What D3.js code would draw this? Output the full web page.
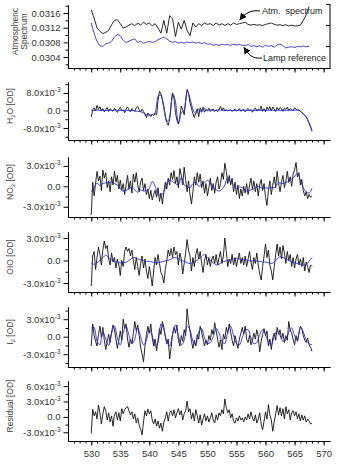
<!DOCTYPE html>
<html>
<head>
<meta charset="utf-8">
<script src="https://cdn.jsdelivr.net/npm/d3@7"></script>
<style>
  body { margin: 0; background: #fff; }
  svg { display: block; font-family: "Liberation Sans", Arial, sans-serif; }
</style>
</head>
<body>
<div id="chart"></div>
<script>
// wavelength grid: every series starts at 530 nm
const wlStart = 530;
const fineStep = 0.25;   // black (measured) traces
const coarseStep = 0.5;  // spectra and blue (fitted) traces
const xMajor = [530, 535, 540, 545, 550, 555, 560, 565, 570];

// panel 1: spectra
const atmSpectrum = [0.03169,0.03146,0.03119,0.03110,0.03104,0.03107,0.03113,0.03128,0.03140,0.03142,
  0.03131,0.03119,0.03122,0.03127,0.03131,0.03125,0.03133,0.03127,0.03135,0.03129,
  0.03133,0.03125,0.03131,0.03119,0.03105,0.03140,0.03105,0.03153,0.03144,0.03096,
  0.03135,0.03116,0.03140,0.03113,0.03098,0.03133,0.03122,0.03131,0.03126,0.03133,
  0.03129,0.03131,0.03126,0.03133,0.03127,0.03131,0.03126,0.03131,0.03127,0.03133,
  0.03129,0.03131,0.03133,0.03135,0.03129,0.03127,0.03129,0.03127,0.03128,0.03126,
  0.03129,0.03131,0.03133,0.03129,0.03127,0.03128,0.03126,0.03128,0.03125,0.03127,
  0.03125,0.03125,0.03127,0.03140,0.03155,0.03178];
const lampReference = [0.03133,0.03105,0.03083,0.03071,0.03069,0.03076,0.03078,0.03083,0.03094,0.03101,
  0.03098,0.03085,0.03080,0.03083,0.03087,0.03089,0.03080,0.03083,0.03078,0.03080,
  0.03083,0.03080,0.03082,0.03087,0.03091,0.03094,0.03089,0.03084,0.03080,0.03082,
  0.03078,0.03080,0.03078,0.03081,0.03079,0.03081,0.03078,0.03080,0.03077,0.03079,
  0.03075,0.03076,0.03072,0.03074,0.03072,0.03075,0.03073,0.03074,0.03072,0.03075,
  0.03073,0.03074,0.03072,0.03071,0.03074,0.03069,0.03071,0.03068,0.03071,0.03067,
  0.03072,0.03069,0.03071,0.03067,0.03073,0.03075,0.03071,0.03065,0.03067,0.03068,
  0.03066,0.03069,0.03068,0.03070,0.03068,0.03069];

// optical densities, in units of 10^-3
const h2oMeas = [-3.0,0.3,1.2,-0.2,2.3,0.5,1.7,-0.3,0.8,-0.6,
  0.4,1.3,-0.5,0.7,0.2,-0.4,1.0,0.1,-0.9,0.5,
  1.5,-0.2,0.3,-1.0,0.6,1.6,0.2,-0.6,0.8,0.2,
  -0.4,1.2,1.8,0.3,-0.7,0.6,-0.4,-1.8,-3.2,-1.2,
  -2.0,-2.8,-1.8,-2.4,-1.5,-2.0,4.5,8.8,7.5,5.0,
  2.0,-2.5,-5.5,-6.8,-4.0,2.5,8.0,5.5,-1.0,-4.5,
  -6.2,-3.0,2.0,0.5,-2.0,4.0,9.6,8.0,3.5,1.0,
  -1.5,-3.2,-1.0,0.8,-2.8,1.2,-0.5,1.5,-0.8,0.4,
  -0.2,1.0,-0.5,0.3,0.6,-0.4,0.2,-0.6,0.5,1.8,
  0.2,1.2,-0.3,0.4,-0.2,0.1,0.3,-0.5,0.2,0.6,
  -0.3,0.1,0.8,-0.4,0.2,0.4,-0.6,0.3,0.9,-0.2,
  0.3,-0.8,0.4,1.2,-0.3,0.6,0.1,1.9,-0.4,0.8,
  -0.6,1.5,0.3,1.7,-0.2,1.6,0.6,-0.5,1.4,0.2,
  1.3,0.8,-0.4,1.1,0.5,1.5,0.0,0.9,0.4,-0.2,
  1.2,0.6,0.2,0.3,-0.5,-1.0,-1.6,-2.3,-3.0,-4.2,
  -5.8,-7.6,-9.5];
const h2oFit = [0.2,0.0,0.2,0.0,0.1,0.0,0.1,0.0,0.1,0.0,
  0.0,0.0,0.0,-0.1,0.0,-0.2,-0.4,-0.6,-1.2,-2.0,
  -2.2,-1.8,-1.2,6.5,7.0,1.0,-5.0,-3.5,7.5,4.0,
  -5.8,-1.0,0.0,8.8,5.5,0.5,-1.5,0.5,-0.8,1.0,
  0.0,0.3,-0.2,0.1,0.3,0.0,0.1,0.0,0.1,-0.1,
  0.0,0.1,0.0,0.1,0.0,0.2,0.0,0.1,0.0,0.1,
  0.0,0.1,0.2,0.0,0.1,0.0,0.1,0.0,0.1,0.0,
  0.1,0.2,-0.3,-1.5,-3.0,-5.5,-9.2];

const no2Meas = [-4.2,0.6,-1.4,0.5,2.2,0.8,1.5,-0.6,2.4,1.2,
  2.0,-0.2,0.8,-0.8,1.4,0.2,2.2,0.6,1.6,-0.4,
  0.9,-0.6,0.4,-1.2,0.2,1.6,-0.4,0.8,-1.0,1.8,
  0.6,2.0,0.2,-0.8,0.6,1.2,-0.6,0.4,-1.2,-0.4,
  -1.8,-0.6,-2.0,-1.2,-0.6,-1.6,-0.2,-2.2,-1.0,-2.6,
  -0.8,0.6,-0.4,1.2,0.2,2.0,1.0,2.3,0.4,1.4,
  -0.2,2.6,1.6,0.2,2.8,1.0,-0.8,0.8,-1.2,-2.6,
  -0.8,1.4,0.2,2.0,0.6,1.8,-0.2,0.8,-1.0,0.4,
  -1.4,-0.2,1.2,-0.6,0.4,-1.0,0.6,1.4,-0.4,0.4,
  2.0,1.0,3.4,2.2,0.4,1.6,0.2,1.2,-0.8,0.6,
  -1.2,0.2,-1.8,-0.4,-1.4,0.0,-1.0,0.4,-1.2,0.2,
  1.2,-0.4,0.8,-0.8,0.4,-1.4,0.2,1.0,-0.6,0.4,
  -1.6,-2.8,-0.6,0.8,-1.2,0.2,1.4,-0.2,2.2,0.4,
  -0.8,0.6,1.6,-0.2,0.8,2.2,0.6,1.4,0.0,1.8,
  2.4,3.5,1.4,2.0,0.2,1.0,-0.6,-1.4,-0.8,-1.8,
  -1.2,-1.6,-1.4];
const no2Fit = [-0.8,-0.2,0.5,0.1,0.4,0.5,0.5,0.7,0.4,0.2,
  -0.3,-0.7,-0.6,-0.4,-0.1,-0.5,-0.9,-0.5,-0.7,-0.6,
  -0.3,0.7,0.0,-1.3,-1.2,-0.9,0.4,0.9,0.7,0.4,
  0.2,1.3,0.2,-0.1,-0.2,0.4,0.6,0.0,0.3,0.5,
  0.9,0.5,-0.2,-0.5,-0.7,-0.4,0.2,1.3,0.6,0.2,
  -0.3,-0.1,-0.2,-0.6,-0.7,-0.5,-0.4,0.0,-0.1,-0.3,
  -0.2,-0.3,-0.2,-0.2,0.3,0.5,0.4,0.6,0.7,1.1,
  1.4,1.9,0.9,-0.2,-0.8,-1.0,-0.3];

const oioMeas = [-3.4,0.6,1.2,-1.2,0.4,1.8,0.8,-0.6,1.4,2.6,
  1.6,2.0,0.2,-0.6,1.0,-0.2,0.4,-1.0,0.2,-0.6,
  -2.0,0.0,-0.8,1.2,1.8,1.2,1.6,0.6,1.4,0.0,
  -1.2,0.4,-0.8,-2.0,-0.4,0.6,-1.0,0.2,-1.4,-2.4,
  -0.8,-2.0,-3.4,-1.4,0.4,-0.6,0.8,-0.4,-1.6,-2.0,
  -3.0,-1.2,0.0,1.4,0.6,1.6,0.4,1.8,0.8,1.2,
  -0.6,1.0,0.2,-1.8,-0.4,1.0,2.8,1.4,0.6,-1.4,
  0.4,-0.8,0.8,1.6,0.2,1.2,-0.4,-1.6,0.0,0.8,
  -0.6,0.4,-0.8,0.2,0.6,-0.4,0.8,-0.6,0.4,1.2,
  -0.4,0.6,3.0,1.2,-0.8,0.2,-0.4,0.8,-0.6,0.4,
  -0.8,0.2,1.0,-0.4,0.4,-0.6,0.6,-0.8,0.2,1.2,
  -0.2,-1.2,0.4,-0.4,1.0,-0.6,-1.8,-2.6,-0.8,0.6,
  2.2,0.4,1.4,-0.6,-1.4,-2.6,-0.8,0.8,2.2,0.6,
  1.8,0.2,2.0,1.0,-0.4,1.2,0.0,0.8,-0.8,0.4,
  -1.0,0.2,0.8,-0.6,0.2,-0.8,0.4,-1.4,-0.2,-0.8,
  -1.6,-0.6,-0.8];
const oioFit = [-0.3,-0.5,-0.3,0.0,0.4,0.7,0.4,0.1,-0.1,-0.2,
  -0.3,-0.3,-0.2,0.0,0.3,0.4,0.2,0.1,0.0,-0.1,
  -0.1,-0.2,-0.3,-0.3,-0.2,-0.1,0.0,0.1,0.3,0.4,
  0.2,0.0,-0.1,-0.3,-0.4,-0.3,-0.1,0.2,0.5,0.8,
  0.4,0.0,-0.3,-0.6,-0.5,-0.2,-0.1,0.0,0.1,0.2,
  0.3,0.2,0.1,0.1,0.0,-0.1,0.0,-0.1,-0.1,-0.2,
  -0.2,-0.3,-0.4,-0.2,0.2,0.5,0.4,0.2,0.0,-0.2,
  -0.3,-0.4,-0.5,-0.6,-0.5,-0.1,0.4];

const i2Meas = [-1.6,2.2,0.2,-0.8,-1.6,0.4,1.8,-0.2,1.6,-0.6,
  -2.2,-0.8,0.4,-1.0,0.8,2.0,1.2,-0.4,-2.0,-0.6,
  1.0,-0.6,3.0,1.4,2.2,-0.4,-1.8,-0.4,-1.2,0.6,
  2.6,1.0,2.0,0.2,-1.8,-3.0,-4.3,-1.6,0.4,1.8,
  0.6,2.2,-0.2,-1.6,-0.4,-2.4,-0.6,1.4,0.4,2.6,
  1.6,0.0,-1.2,-0.4,-3.8,-1.8,0.4,1.6,0.6,2.0,
  -0.6,-1.6,0.2,-0.8,1.2,0.2,4.8,2.4,1.0,-0.8,
  -2.0,-0.6,-1.6,0.4,-0.4,1.8,0.8,-0.4,-1.6,-0.6,
  -1.4,0.2,-0.6,1.2,0.4,2.4,1.0,-0.4,-1.8,-0.6,
  -2.2,0.4,-0.4,1.6,0.6,2.2,0.8,-0.6,-1.6,0.2,
  -1.0,-2.0,-0.4,0.6,1.6,0.4,1.8,-0.4,-1.0,0.2,
  -1.4,-0.6,0.6,-0.4,1.2,0.0,-2.6,-0.8,0.4,1.4,
  0.2,1.0,-1.6,-0.4,-2.2,-0.2,0.6,-0.6,1.6,0.4,
  1.2,-0.4,0.6,-1.0,0.2,-0.6,2.6,1.2,0.6,-0.4,
  -1.4,0.2,-0.8,0.6,1.8,1.4,0.2,-0.6,-1.0,-0.2,
  -1.4,-1.8,-2.5];
const i2Fit = [1.5,1.6,-0.8,-1.4,0.8,-0.4,-1.5,0.6,1.8,-0.2,
  -1.4,0.6,1.8,0.2,-1.2,-0.4,1.5,0.0,-1.4,-0.6,
  1.2,0.2,-1.6,-1.0,2.2,1.2,-0.8,-1.6,0.4,2.0,
  0.2,-1.4,-0.6,1.8,1.2,-0.8,-1.4,0.8,1.4,-0.2,
  -1.2,-1.0,0.0,1.4,0.6,-0.8,-1.2,0.8,1.8,0.2,
  -1.2,-1.4,-0.2,1.2,1.2,-0.2,-1.2,-1.0,0.4,1.2,
  0.4,-1.0,-1.4,0.0,1.0,0.2,-0.8,-0.6,0.8,1.5,
  0.2,-0.6,1.6,0.8,-0.6,-1.2,-1.4];

const residual = [-3.2,1.5,0.2,1.0,-0.4,2.3,0.8,-1.4,0.6,2.0,
  1.2,-0.6,0.8,-1.0,0.2,-1.8,0.4,1.0,-0.6,0.8,
  -0.8,1.6,0.6,1.4,1.8,2.0,1.2,0.4,1.0,-0.4,
  0.6,-1.2,-0.2,-1.6,-2.4,-3.5,-1.0,1.2,0.2,1.5,
  0.6,1.2,-0.6,-1.4,-0.4,-1.8,-0.8,-2.2,-1.2,-2.8,
  -1.0,-0.2,1.0,-0.8,0.8,1.2,0.2,1.4,-0.2,0.8,
  1.6,0.4,1.2,-0.6,0.6,1.2,3.1,1.0,1.6,-0.4,
  0.8,-0.8,1.4,0.2,-1.2,0.4,-1.6,-0.4,0.6,-0.8,
  0.2,-1.0,-0.2,0.8,-0.6,-1.2,0.4,-0.6,0.8,0.2,
  1.4,0.6,3.5,1.8,0.8,1.4,-0.2,0.6,-0.8,-1.2,
  -0.2,-0.8,0.2,-0.6,-0.2,-1.0,0.0,-0.6,0.6,-0.4,
  1.0,-0.2,-0.8,0.4,-1.2,-0.4,0.8,-1.4,-2.5,-0.8,
  1.0,-0.4,2.4,0.4,-0.6,-2.8,-1.0,0.6,2.2,0.4,
  1.8,0.2,1.6,-0.4,2.0,0.6,1.4,-0.6,0.8,1.2,
  0.2,1.0,-0.4,0.6,-0.8,0.4,-0.6,0.2,-1.0,-0.4,
  -0.8,-1.4,-1.2];

const black = '#111';
const blue = '#2b2bd2';

const width = 344, height = 474;
const svg = d3.select('#chart').append('svg')
    .attr('width', width)
    .attr('height', height);

const x = d3.scaleLinear().domain([526, 571.1]).range([68, 330]);

const panels = [
    {title: ['Atmospheric', 'Spectrum'], top: 5, bottom: 68, domain: [0.0301, 0.03182],
     major: [0.0304, 0.0308, 0.0312, 0.0316], minor: [0.0302, 0.0306, 0.0310, 0.0314, 0.0318], sci: false,
     series: [{data: atmSpectrum, step: coarseStep, color: black}, {data: lampReference, step: coarseStep, color: blue, smooth: true}]},
    {title: ['H', '2', 'O [OD]'], top: 82, bottom: 140, domain: [-13.5, 13.0],
     major: [-8, 0, 8], minor: [-12, -4, 4, 12], sci: true,
     series: [{data: h2oMeas, step: fineStep, color: black}, {data: h2oFit, step: coarseStep, color: blue, smooth: true}]},
    {title: ['NO', '2', ' [OD]'], top: 157, bottom: 217, domain: [-4.5, 4.3],
     major: [-3, 0, 3], minor: [-1.5, 1.5], sci: true,
     series: [{data: no2Meas, step: fineStep, color: black}, {data: no2Fit, step: coarseStep, color: blue, smooth: true}]},
    {title: ['OIO [OD]'], top: 232, bottom: 292, domain: [-4.2, 3.8],
     major: [-3, 0, 3], minor: [-1.5, 1.5], sci: true,
     series: [{data: oioMeas, step: fineStep, color: black}, {data: oioFit, step: coarseStep, color: blue, smooth: true}]},
    {title: ['I', '2', ' [OD]'], top: 307, bottom: 367, domain: [-5.2, 5.1],
     major: [-3, 0, 3], minor: [-4.5, -1.5, 1.5, 4.5], sci: true,
     series: [{data: i2Meas, step: fineStep, color: black}, {data: i2Fit, step: coarseStep, color: blue, smooth: true}]},
    {title: ['Residual [OD]'], top: 381, bottom: 441, domain: [-4.7, 7.0],
     major: [-3, 0, 3, 6], minor: [-1.5, 1.5, 4.5], sci: true,
     series: [{data: residual, step: fineStep, color: black}]}
];

function styleAxis(g) {
    g.attr('font-family', null).attr('font-size', null);
    g.selectAll('path, line').attr('stroke', '#000').attr('stroke-width', 1);
    g.selectAll('text').attr('fill', '#333').style('font-size', '9.5px');
}

function sciLabels(g) {
    g.selectAll('.tick text').each(function (d) {
        let t = d3.select(this);
        t.text('');
        if (d === 0) {
            t.text('0.0');
            return;
        }
        t.append('tspan').text(d.toFixed(1) + 'x10');
        t.append('tspan').attr('dy', '-4').style('font-size', '6.5px').text('-3');
    });
}

panels.forEach((p, k) => {
    let y = d3.scaleLinear().domain(p.domain).range([p.bottom, p.top]);
    let last = k === panels.length - 1;

    // lines
    p.series.forEach(s => {
        let line = d3.line()
            .x((d, i) => x(wlStart + i * s.step))
            .y(d => y(d));
        if (s.smooth) line.curve(d3.curveMonotoneX);
        svg.append('path')
            .datum(s.data)
            .attr('fill', 'none')
            .attr('stroke', s.color)
            .attr('stroke-width', 0.9)
            .attr('stroke-linejoin', 'round')
            .attr('d', line);
    });

    // x axis: minor then major ticks
    let gxMinor = svg.append('g').attr('transform', 'translate(0,' + p.bottom + ')')
        .call(d3.axisBottom(x).tickValues(d3.range(527, 571, 1)).tickSize(2.5).tickSizeOuter(0).tickFormat(''));
    styleAxis(gxMinor);
    let gx = svg.append('g').attr('transform', 'translate(0,' + p.bottom + ')')
        .call(d3.axisBottom(x).tickValues(xMajor).tickSize(4.5).tickSizeOuter(0).tickPadding(5)
            .tickFormat(last ? d3.format('d') : ''));
    styleAxis(gx);

    // y axis
    let gyMinor = svg.append('g').attr('transform', 'translate(68,0)')
        .call(d3.axisLeft(y).tickValues(p.minor).tickSize(2.5).tickSizeOuter(0).tickFormat(''));
    styleAxis(gyMinor);
    let gy = svg.append('g').attr('transform', 'translate(68,0)')
        .call(d3.axisLeft(y).tickValues(p.major).tickSize(4.5).tickSizeOuter(0).tickPadding(3)
            .tickFormat(p.sci ? null : d3.format('.4f')));
    if (p.sci) sciLabels(gy);
    styleAxis(gy);

    // axis title
    let cy = (p.top + p.bottom) / 2 - 5;
    if (k === 0) {
        p.title.forEach((t, j) => {
            svg.append('text')
                .attr('transform', 'translate(' + (18 + j * 8.5) + ',' + cy + ') rotate(-90)')
                .attr('text-anchor', 'middle')
                .attr('fill', '#444')
                .style('font-size', '8.5px')
                .text(t);
        });
    } else {
        let title = svg.append('text')
            .attr('transform', 'translate(13,' + cy + ') rotate(-90)')
            .attr('text-anchor', 'middle')
            .attr('fill', '#444')
            .style('font-size', '8.5px');
        title.append('tspan').text(p.title[0]);
        if (p.title.length > 1) {
            title.append('tspan').attr('dy', 2).style('font-size', '6px').text(p.title[1]);
            title.append('tspan').attr('dy', -2).text(p.title[2]);
        }
    }

    // panel 1 extras: right axis, annotations
    if (k === 0) {
        let yRight = d3.scaleLinear().domain([0, 3]).range([67, 4]);
        let gr = svg.append('g').attr('transform', 'translate(330,0)')
            .call(d3.axisLeft(yRight).tickValues([1, 2, 3]).tickSize(4).tickSizeOuter(0).tickFormat(''));
        styleAxis(gr);
        gr.select('.domain').attr('d', 'M0,' + p.bottom + 'V4');

        let defs = svg.append('defs');
        defs.append('marker')
            .attr('id', 'arrow')
            .attr('viewBox', '0 0 10 10')
            .attr('refX', 9).attr('refY', 5)
            .attr('markerWidth', 7).attr('markerHeight', 7)
            .attr('markerUnits', 'userSpaceOnUse')
            .attr('orient', 'auto')
            .append('path')
            .attr('d', 'M0,0L10,5L0,10z')
            .attr('fill', '#000');

        let atmTip = [x(555.6), y(0.03142)];
        svg.append('path')
            .attr('d', 'M260,11 C252,10 246,12 ' + atmTip[0] + ',' + atmTip[1])
            .attr('fill', 'none').attr('stroke', '#000').attr('stroke-width', 1)
            .attr('marker-end', 'url(#arrow)');
        let lampTip = [x(556.3), y(0.03066)];
        svg.append('path')
            .attr('d', 'M262,58 C252,59 249,55 ' + lampTip[0] + ',' + lampTip[1])
            .attr('fill', 'none').attr('stroke', '#000').attr('stroke-width', 1)
            .attr('marker-end', 'url(#arrow)');

        svg.append('text')
            .attr('x', 262).attr('y', 14)
            .attr('fill', '#222')
            .style('font-size', '9px')
            .style('white-space', 'pre')
            .text('Atm.  spectrum');
        svg.append('text')
            .attr('x', 263).attr('y', 61)
            .attr('fill', '#222')
            .style('font-size', '9px')
            .text('Lamp reference');
    }
});
</script>
</body>
</html>
